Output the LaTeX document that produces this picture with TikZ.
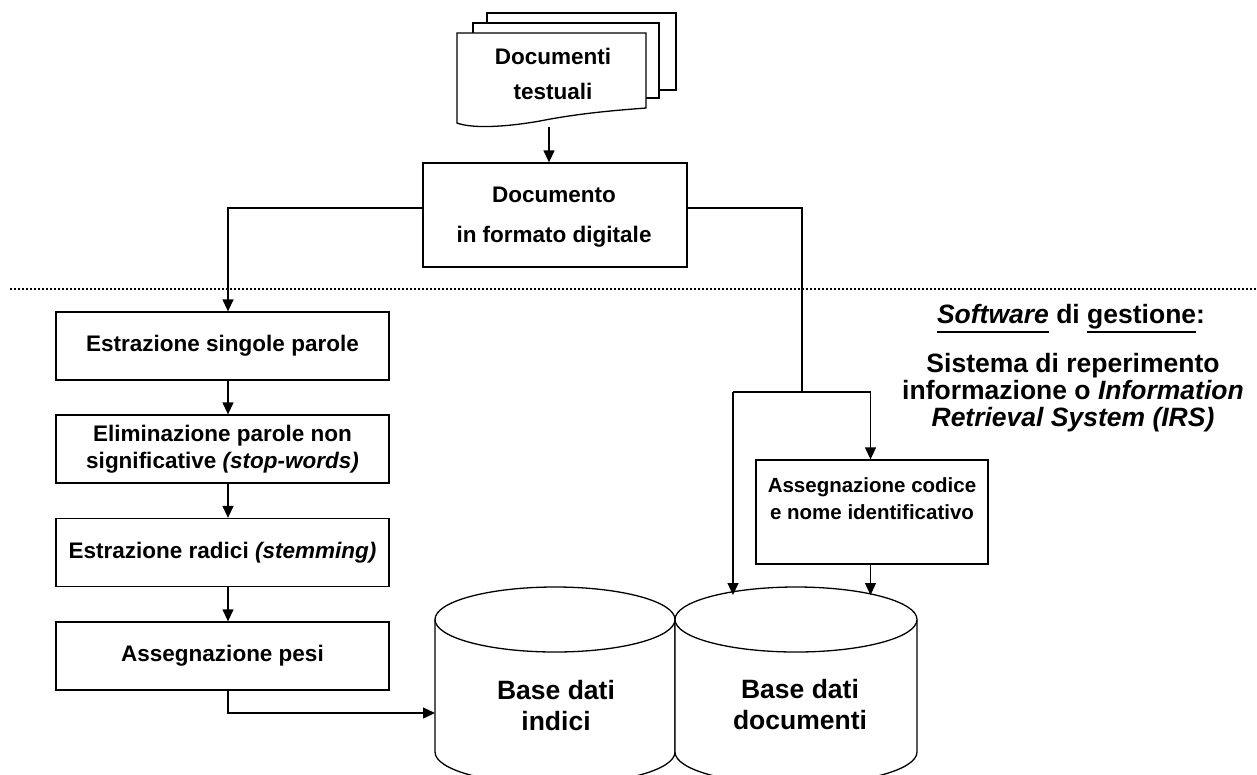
\documentclass[tikz,border=0pt]{standalone}
\usepackage{fontspec}
\setmainfont{Liberation Sans}
\usetikzlibrary{arrows.meta}
\newsavebox\ulbox
\newcommand\myul[1]{\sbox\ulbox{#1}\rlap{\rule[-10pt]{\wd\ulbox}{1.6pt}}\usebox\ulbox}
\begin{document}
\begin{tikzpicture}[x=1pt,y=-1pt,line width=1.3pt,
  boxtxt/.style={font=\fontsize{22.5}{27}\selectfont\bfseries,align=center},
  stepbox/.style={draw,fill=white,boxtxt,inner sep=0pt,minimum width=333pt,minimum height=68pt},
  arr/.style={-{Triangle[length=12pt,width=11pt]}},
  bigtxt/.style={font=\fontsize{26.5}{31}\selectfont\bfseries,align=center},
  page/.style={draw,fill=white}]
\clip (0,0) rectangle (1257,774);
\fill[white] (0,0) rectangle (1257,774);

% separator
\draw[line width=1.8pt,dash pattern=on 1.8pt off 2.2pt] (10,289) -- (1257,289);

% document stack
\draw[page] (487,13) rectangle (676,90);
\draw[page] (473,23) rectangle (659,98);
\draw[page] (457,123) -- (457,33) -- (646,33) -- (646,108)
   .. controls (620,110) and (580,113) .. (540,121)
   .. controls (500,128) and (470,128) .. cycle;
\node[draw=none,minimum width=189pt,minimum height=90pt,inner sep=0pt] (doc1) at (551.5,78) {};
\node[boxtxt,font=\fontsize{22.5}{35}\selectfont\bfseries] (doct) at (553,74.3) {Documenti\\testuali};
\coordinate (d1b) at (549,127);

% digital document box
\node[draw,fill=white,inner sep=0pt,minimum width=264pt,minimum height=104pt] (doc2) at (555,215) {};
\node[boxtxt,font=\fontsize{22.5}{39.5}\selectfont\bfseries] (doc2t) at (554,217) {Documento\\in formato digitale};

% left column
\node[stepbox] (b1) at (222.5,346) {Estrazione singole parole};
\node[stepbox] (b2) at (222.5,449) {Eliminazione parole non\\significative \textit{(stop-words)}};
\node[stepbox] (b3) at (222.5,552.5) {Estrazione radici \textit{(stemming)}};
\node[stepbox] (b4) at (222.5,656) {Assegnazione pesi};

% right box
\node[draw,fill=white,inner sep=0pt,minimum width=232pt,minimum height=104pt] (b5) at (872,512) {};
\node[boxtxt,font=\fontsize{20.5}{27}\selectfont\bfseries] (b5t) at (872,499) {Assegnazione codice\\e nome identificativo};

% cylinders
\draw[fill=white] (435,619.5) -- (435,752) arc[start angle=180,end angle=360,x radius=120pt,y radius=32.5pt] -- (675,619.5);
\draw[fill=white] (555,619.5) ellipse[x radius=120pt,y radius=32.5pt];
\draw[fill=white] (675,619.5) -- (675,752) arc[start angle=180,end angle=360,x radius=121pt,y radius=32.5pt] -- (917,619.5);
\draw[fill=white] (796,619.5) ellipse[x radius=121pt,y radius=32.5pt];
\node[bigtxt] (c1t) at (556,706) {Base dati\\indici};
\node[bigtxt] (c2t) at (800,704.4) {Base dati\\documenti};

% coordinates
\coordinate (c1in) at (435,713);
\coordinate (split) at (802,392);
\coordinate (splitL) at (733,392);
\coordinate (splitR) at (870.5,392);
\coordinate (c2inL) at (733,595);
\coordinate (c2inR) at (870.5,595);

% connectors
\draw[arr] (d1b) -- (d1b |- doc2.north);
\draw[arr] ([yshift=7pt]doc2.west) -| ([xshift=5.5pt]b1.north);
\draw[arr] ([xshift=5.5pt]b1.south) -- ([xshift=5.5pt]b2.north);
\draw[arr] ([xshift=5.5pt]b2.south) -- ([xshift=5.5pt]b3.north);
\draw[arr] ([xshift=5.5pt]b3.south) -- ([xshift=5.5pt]b4.north);
\draw[arr] ([xshift=5.5pt]b4.south) |- (c1in);
\draw ([yshift=7pt]doc2.east) -| (split);
\draw (splitL) -- (splitR);
\draw[arr] (splitL) -- (c2inL);
\draw[arr] (splitR) -- (splitR |- b5.north);
\draw[arr] (splitR |- b5.south) -- (c2inR);

% right-hand text
\node[anchor=base,font=\fontsize{26.5}{27}\selectfont\bfseries,inner sep=0pt] (sw) at (1071,323)
  {\myul{\itshape Software} di \myul{gestione}:};
\node[font=\fontsize{26.5}{27}\selectfont\bfseries,align=center] (irs) at (1073,393)
  {Sistema di reperimento\\informazione o \textit{Information}\\\textit{Retrieval System (IRS)}};
\end{tikzpicture}
\end{document}
